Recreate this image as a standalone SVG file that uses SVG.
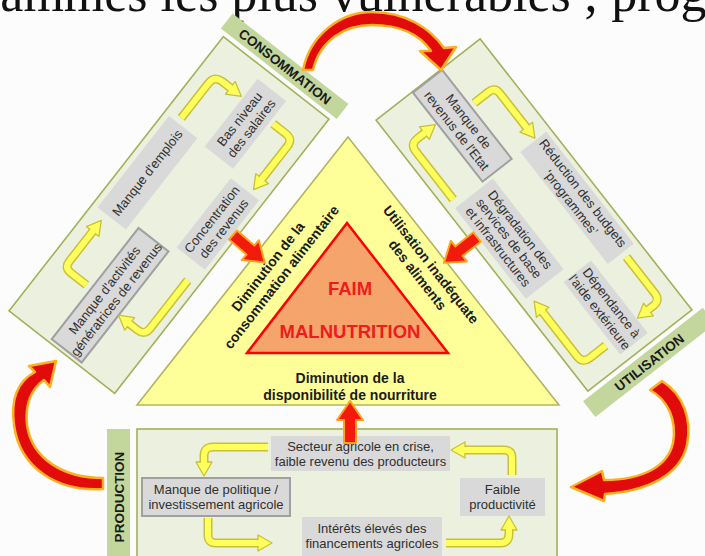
<svg xmlns="http://www.w3.org/2000/svg" width="705" height="556" viewBox="0 0 705 556">
<defs>
<style>
.panel{fill:#ebf1de;stroke:#a3b05a;stroke-width:1.6}
.tab{fill:#c3d69b}
.tabt{font-family:"Liberation Sans",Arial,sans-serif;font-weight:bold;font-size:13.5px;fill:#1a1a1a;text-anchor:middle}
.box{fill:#d9d9d9}
.boxb{fill:#d9d9d9;stroke:#a0a0a0;stroke-width:2}
.nt{font-family:"Liberation Sans",Arial,sans-serif;font-size:13px;fill:#303030;text-anchor:middle}
.lb{font-family:"Liberation Sans",Arial,sans-serif;font-weight:bold;font-size:14px;fill:#1a1a1a;text-anchor:middle}
.big{font-family:"Liberation Sans",Arial,sans-serif;font-weight:bold;font-size:18.5px;fill:#ee1c1c;text-anchor:middle}
.yo{fill:none;stroke:#c9c03a;stroke-width:9}
.yi{fill:none;stroke:#ffff5c;stroke-width:6}
.yh{fill:#ffff5c;stroke:#c9c03a;stroke-width:1.3;stroke-linejoin:round}
.arc{fill:#e10b0b;stroke:#ffb020;stroke-width:2.5;stroke-linejoin:round}
.ra{fill:#f21a0a;stroke:#ffa31a;stroke-width:2;stroke-linejoin:round}
</style>
<polygon id="fat" points="0,-6 23,-6 23,-13 42,0 23,13 23,6 0,6"/>
</defs>
<rect width="705" height="556" fill="#fcfcfc"/>
<text id="title" x="-17" y="11" font-family="Liberation Serif" font-size="52" fill="#111">rammes les plus vulnérables ; programmes</text>

<!-- Central triangle -->
<g id="triangle">
<polygon points="348,137 137,405 559,405" fill="#ffff99" stroke="#b3b463" stroke-width="1.6"/>
<polygon points="347,223 247,353 448,353" fill="#f5a46c" stroke="#ff0000" stroke-width="2.5" stroke-linejoin="miter"/>
<text class="big" x="350" y="295">FAIM</text>
<text class="big" x="350" y="338">MALNUTRITION</text>
</g>
<g id="lbl-consommation" transform="translate(275,272) rotate(-52)">
<text class="lb" x="0" y="-4">Diminution de la</text>
<text class="lb" x="0" y="13">consommation alimentaire</text>
</g>
<g id="lbl-utilisation" transform="translate(424,270) rotate(52)">
<text class="lb" x="0" y="-4">Utilisation inadéquate</text>
<text class="lb" x="0" y="13">des aliments</text>
</g>
<g id="lbl-disponibilite">
<text class="lb" x="350" y="383">Diminution de la</text>
<text class="lb" x="350" y="400">disponibilité de nourriture</text>
</g>

<!-- Left panel CONSOMMATION -->
<g id="panel-consommation" transform="translate(169,215) rotate(-52)">
<rect class="panel" x="-174" y="-67" width="348" height="134"/>
<rect class="tab" x="179" y="-74" width="19" height="147"/>
<text class="tabt" transform="translate(188.5,0) rotate(90)" x="0" y="5">CONSOMMATION</text>
</g>
<g id="n-emplois" transform="translate(169,215) rotate(-52)">
<rect class="box" x="-38" y="-61" width="116" height="36"/>
<text class="nt" x="20" y="-38.5">Manque d'emplois</text>
</g>
<g id="n-salaires" transform="translate(169,215) rotate(-52)">
<rect class="box" x="76" y="-14" width="86" height="36"/>
<text class="nt" x="119" y="1">Bas niveau</text>
<text class="nt" x="119" y="16">des salaires</text>
</g>
<g id="n-concentration" transform="translate(169,215) rotate(-52)">
<rect class="box" x="-21" y="26" width="88" height="36"/>
<text class="nt" x="23" y="41">Concentration</text>
<text class="nt" x="23" y="56">des revenus</text>
</g>
<g id="n-activites" transform="translate(169,215) rotate(-52)">
<rect class="boxb" x="-170" y="-16" width="141" height="38"/>
<text class="nt" x="-99" y="0">Manque d'activités</text>
<text class="nt" x="-99" y="15">génératrices de revenus</text>
</g>

<!-- Right panel UTILISATION -->
<g id="panel-utilisation" transform="translate(534,215) rotate(52)">
<rect class="panel" x="-172" y="-66" width="344" height="132"/>
<rect class="tab" x="177" y="-76" width="20" height="152"/>
<text class="tabt" transform="translate(187,0) rotate(-90)" x="0" y="5">UTILISATION</text>
</g>
<g id="n-etat" transform="translate(534,215) rotate(52)">
<rect class="boxb" x="-171" y="-17" width="113" height="37"/>
<text class="nt" x="-114" y="-1.5">Manque de</text>
<text class="nt" x="-114" y="13.5">revenus de l'Etat</text>
</g>
<g id="n-budgets" transform="translate(534,215) rotate(52)">
<rect class="box" x="-58" y="-61" width="142" height="33"/>
<text class="nt" x="13" y="-47.5">Réduction des  budgets</text>
<text class="nt" x="13" y="-32.5">‘programmes’</text>
</g>
<g id="n-degradation" transform="translate(534,215) rotate(52)">
<rect class="box" x="-54" y="10" width="115" height="48"/>
<text class="nt" x="3" y="24.5">Dégradation des</text>
<text class="nt" x="3" y="38.5">services de base</text>
<text class="nt" x="3" y="52.5">et infrastructures</text>
</g>
<g id="n-dependance" transform="translate(534,215) rotate(52)">
<rect class="box" x="71" y="-17" width="92" height="35"/>
<text class="nt" x="117" y="-2.5">Dépendance à</text>
<text class="nt" x="117" y="12.5">l'aide extérieure</text>
</g>

<!-- Bottom panel PRODUCTION -->
<g id="panel-production">
<rect class="panel" x="137" y="429" width="420" height="140"/>
<rect class="tab" x="107" y="429" width="23" height="140"/>
<text class="tabt" transform="translate(118.5,497) rotate(-90)" x="0" y="5">PRODUCTION</text>
</g>
<g id="n-secteur">
<rect class="box" x="271" y="436" width="179" height="35"/>
<text class="nt" x="360.5" y="450.5">Secteur agricole en crise,</text>
<text class="nt" x="360.5" y="465.5">faible revenu des producteurs</text>
</g>
<g id="n-politique">
<rect class="boxb" x="142" y="478" width="148" height="38"/>
<text class="nt" x="216" y="494">Manque de politique /</text>
<text class="nt" x="216" y="509">investissement agricole</text>
</g>
<g id="n-productivite">
<rect class="box" x="460" y="478" width="85" height="38"/>
<text class="nt" x="502.5" y="494">Faible</text>
<text class="nt" x="502.5" y="509">productivité</text>
</g>
<g id="n-interets">
<rect class="box" x="302" y="517" width="140" height="40"/>
<text class="nt" x="372" y="532.5">Intérêts élevés des</text>
<text class="nt" x="372" y="547.5">financements agricoles</text>
</g>

<!-- Connectors -->
<g id="connectors">
<g transform="translate(169,215) rotate(-52)">
<path class="yo" d="M -106,-22 V -42 Q -106,-50 -98,-50 H -60"/><polygon class="yh" points="-60,-58 -46,-50 -60,-42"/><path class="yi" d="M -106,-22 V -42 Q -106,-50 -98,-50 H -59"/>
<path class="yo" d="M 84,-50 H 128 Q 138,-50 138,-40 V -30"/><polygon class="yh" points="130,-30 138,-16 146,-30"/><path class="yi" d="M 84,-50 H 128 Q 138,-50 138,-40 V -29"/>
<path class="yo" d="M 136,26 V 42 Q 136,51 127,51 H 86"/><polygon class="yh" points="86,43 72,51 86,59"/><path class="yi" d="M 136,26 V 42 Q 136,51 127,51 H 85"/>
<path class="yo" d="M -40,55 H -101 Q -110,55 -110,46 V 36"/><polygon class="yh" points="-118,36 -110,22 -102,36"/><path class="yi" d="M -40,55 H -101 Q -110,55 -110,46 V 35"/>
</g>
<g transform="translate(534,215) rotate(52)">
<path class="yo" d="M -125,-22 V -40 Q -125,-48 -117,-48 H -74"/><polygon class="yh" points="-74,-56 -60,-48 -74,-40"/><path class="yi" d="M -125,-22 V -40 Q -125,-48 -117,-48 H -73"/>
<path class="yo" d="M 90,-47 H 136 Q 145,-47 145,-38 V -32"/><polygon class="yh" points="137,-32 145,-18 153,-32"/><path class="yi" d="M 90,-47 H 136 Q 145,-47 145,-38 V -31"/>
<path class="yo" d="M 147,24 V 44 Q 147,53 138,53 H 82"/><polygon class="yh" points="82,45 68,53 82,61"/><path class="yi" d="M 147,24 V 44 Q 147,53 138,53 H 81"/>
<path class="yo" d="M -62,54 H -123 Q -132,54 -132,45 V 36"/><polygon class="yh" points="-140,36 -132,22 -124,36"/><path class="yi" d="M -62,54 H -123 Q -132,54 -132,45 V 35"/>
</g>
<path class="yo" d="M 268,447 H 213 Q 204,447 204,456 V 462"/><polygon class="yh" points="196,462 204,476 212,462"/><path class="yi" d="M 268,447 H 213 Q 204,447 204,456 V 463"/>
<path class="yo" d="M 208,518 V 535 Q 208,543 216,543 H 258"/><polygon class="yh" points="258,535 272,543 258,551"/><path class="yi" d="M 208,518 V 535 Q 208,543 216,543 H 259"/>
<path class="yo" d="M 446,543 H 500 Q 509,543 509,534 V 530"/><polygon class="yh" points="501,530 509,516 517,530"/><path class="yi" d="M 446,543 H 500 Q 509,543 509,534 V 529"/>
<path class="yo" d="M 512,475 V 458 Q 512,450 504,450 H 465"/><polygon class="yh" points="465,442 451,450 465,458"/><path class="yi" d="M 512,475 V 458 Q 512,450 504,450 H 464"/>

<use href="#fat" class="ra" transform="translate(233,235) rotate(41)"/>
<use href="#fat" class="ra" transform="translate(477,237) rotate(142)"/>
<use href="#fat" class="ra" transform="translate(350,443) rotate(-90)"/>

<path class="arc" d="M 303,70 C 310,35 340,12 372,12 C 405,12 430,28 444,48 L 456,47 L 441,70 L 420,51 L 431,51 C 420,35 400,25 372,25 C 345,25 320,40 313,70 Z"/>
<path class="arc" d="M 662,381 C 684,395 692,420 687,445 C 680,475 648,491 605,494 L 604,501 L 571,487 L 602,471 L 604,480 C 645,480 668,465 673,443 C 677,420 668,400 650,390 Z"/>
<path class="arc" d="M 103,489 C 60,492 20,470 14,425 C 10,395 20,380 35,372 L 29,366 L 56,361 L 50,387 L 44,380 C 30,390 25,405 27,425 C 32,460 65,478 103,478 Z"/>
</g>
</svg>
